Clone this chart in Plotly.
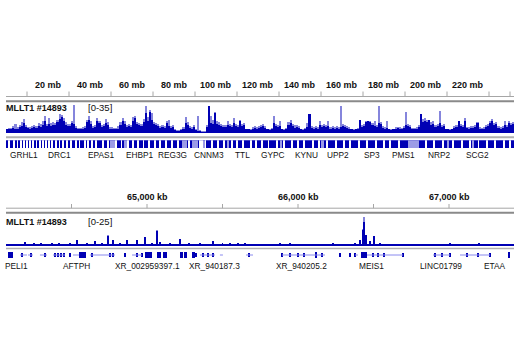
import plotly.graph_objects as go

W, H = 520, 350

# ---------------- chr2 overview: MLLT1 #14893 signal, 1 Mb bins ----------------
chr2_mean = [
    4, 5, 4, 6, 5, 5, 7, 8, 11, 7,
    6, 5, 6, 7, 6, 8, 7, 9, 13, 8,
    10, 8, 9, 9, 12, 16, 18, 14, 9, 8,
    8, 11, 10, 6, 5, 4, 5, 6, 12, 15,
    10, 6, 7, 13, 11, 7, 8, 11, 9, 5,
    5, 4, 5, 5, 9, 13, 10, 7, 8, 7,
    14, 17, 10, 9, 8, 12, 23, 14, 24, 15,
    10, 9, 8, 6, 7, 6, 11, 8, 6, 7,
    3, 2, 2, 3, 4, 11, 9, 6, 5, 7,
    3, 2, 2, 1, 1, 7, 30, 11, 10, 23,
    10, 9, 8, 7, 7, 9, 8, 7, 11, 8,
    7, 13, 8, 9, 4, 4, 3, 5, 6, 5,
    6, 7, 8, 6, 4, 3, 4, 11, 8, 7,
    8, 4, 3, 4, 9, 11, 8, 6, 7, 6,
    4, 3, 4, 7, 21, 6, 5, 6, 5, 9,
    7, 8, 7, 8, 5, 6, 5, 6, 5, 7,
    8, 7, 6, 5, 4, 3, 4, 4, 15, 7,
    8, 12, 13, 12, 9, 8, 7, 11, 10, 6,
    5, 6, 4, 3, 4, 5, 6, 5, 5, 6,
    9, 8, 7, 5, 4, 5, 7, 21, 12, 13,
    12, 15, 9, 10, 7, 8, 11, 7, 8, 4,
    4, 3, 4, 6, 7, 13, 8, 7, 13, 6,
    5, 6, 6, 7, 11, 5, 4, 5, 7, 8,
    11, 14, 9, 10, 6, 5, 6, 9, 7, 11, 9, 10,
]
chr2_max = [
    5, 6, 6, 8, 10, 7, 9, 12, 16, 9,
    7, 7, 8, 9, 8, 11, 10, 14, 19, 10,
    17, 11, 12, 11, 15, 21, 20, 17, 12, 10,
    10, 13, 32, 8, 6, 6, 7, 8, 15, 19,
    13, 8, 9, 17, 14, 9, 10, 16, 12, 7,
    7, 6, 6, 8, 12, 17, 13, 9, 10, 9,
    18, 19, 12, 11, 10, 16, 30, 18, 26, 23,
    12, 11, 10, 8, 9, 8, 13, 15, 8, 9,
    4, 3, 3, 4, 7, 18, 12, 8, 7, 9,
    4, 19, 3, 2, 2, 9, 31, 19, 15, 24,
    13, 12, 10, 9, 9, 13, 10, 9, 17, 10,
    9, 15, 10, 11, 5, 5, 5, 7, 8, 7,
    8, 9, 10, 8, 5, 5, 6, 19, 10, 9,
    13, 5, 5, 6, 12, 15, 10, 9, 9, 8,
    5, 5, 6, 11, 22, 8, 7, 8, 7, 13,
    9, 10, 9, 13, 7, 8, 7, 8, 7, 30,
    10, 9, 8, 7, 5, 5, 5, 6, 15, 9,
    10, 14, 14, 13, 11, 13, 9, 30, 12, 8,
    7, 13, 5, 5, 5, 7, 7, 7, 6, 8,
    24, 10, 9, 6, 6, 7, 9, 22, 16, 17,
    15, 15, 12, 14, 9, 10, 25, 9, 10, 5,
    5, 5, 5, 8, 9, 14, 10, 9, 17, 7,
    7, 8, 8, 9, 12, 7, 6, 7, 9, 10,
    13, 16, 11, 12, 8, 7, 8, 13, 9, 14, 11, 12,
]
chr2_len_mb = 241.9
ruler_labels_mb = [20, 40, 60, 80, 100, 120, 140, 160, 180, 200, 220]
ruler_ticks_mb = [10, 30, 50, 70, 90, 110, 130, 150, 170, 190, 210, 230, 240]

# gene density band on chr2
gene_gaps_mb = [1.5, 4, 5.5, 7, 8.5, 10, 11.5, 13, 14.5, 16, 17.5, 19, 20.5, 22, 24,
                25.5, 27, 29, 31, 33.5, 35, 37.5, 39, 41, 43, 46, 48.5, 52.5, 55, 58,
                60.5, 63, 65.5, 68, 71, 73.5, 76, 79, 82, 87, 95, 98, 101, 104, 107.5,
                110, 113, 116.5, 119, 122, 125, 129, 132.5, 136, 139, 142, 146, 149,
                153, 157, 161, 164, 168, 172, 176, 180, 183, 187, 200, 204, 208, 213,
                217, 221, 225, 229, 233, 237, 240]
gene_light_mb = [(49.5, 52), (56, 57.5), (84, 86), (88.5, 91.5), (94, 95), (105, 106),
                 (130.5, 131.5), (150, 151.5), (191.5, 196.5), (210, 211), (222, 223)]
gene_empty_mb = [(92, 93.6)]
genes_top = ["GRHL1", "DRC1", "EPAS1", "EHBP1", "REG3G", "CNNM3", "TTL", "GYPC",
             "KYNU", "UPP2", "SP3", "PMS1", "NRP2", "SCG2"]
genes_top_mb = [8.6, 25.7, 45.7, 63.8, 79.5, 96.7, 112.4, 127.1, 143.3, 158.1,
                174.3, 189.5, 206.2, 224.3]

# ---------------- MEIS1 locus: signal in kb ----------------
locus_range_kb = [64066.2, 67430.5]
locus_base_start_kb = 64050
locus_base_step_kb = 50
locus_base = [1.3, 1.5, 1.2, 1.4, 1.6, 1.3, 1.5, 1.4, 1.7, 1.5,
              1.6, 1.4, 1.8, 1.5, 1.6, 1.7, 1.5, 1.6, 1.4, 1.5,
              1.6, 1.5, 1.4, 1.3, 1.5, 1.4, 1.3, 1.4, 1.2, 1.3,
              1.4, 1.3, 1.2, 1.3, 1.4, 1.2, 1.3, 1.4, 1.3, 1.2,
              1.5, 1.3, 1.2, 1.3, 1.2, 1.4, 1.3, 1.2, 1.3, 1.2,
              1.3, 1.2, 1.4, 1.3, 1.2, 1.3, 1.4, 1.2, 1.3, 1.2,
              1.3, 1.4, 1.2, 1.3, 1.2, 1.3, 1.4, 1.3]
peak_kb = [64120, 64192, 64250, 64300, 64371, 64420, 64490, 64536, 64600, 64656,
           64700, 64742, 64775, 64820, 64868, 64934, 64987, 65030, 65066, 65086,
           65150, 65219, 65280, 65351, 65437, 65500, 65550, 65600, 65649, 65720,
           65800, 65880, 65947, 66010, 66080, 66150, 66230, 66300, 66378, 66411,
           66428, 66439, 66450, 66464, 66477, 66505, 66543, 66600, 66680, 66760,
           66840, 66907, 66960, 67007, 67070, 67139, 67200, 67280, 67350, 67400]
peak_val = [2.0, 3.3, 2.1, 2.3, 2.6, 2.1, 2.8, 4.6, 2.2, 3.8,
            2.4, 8.3, 4.5, 2.6, 4.5, 4.5, 7.0, 2.8, 12.4, 3.3,
            2.4, 6.0, 2.3, 2.8, 3.8, 2.2, 2.7, 2.1, 2.2, 2.0,
            1.9, 2.1, 2.2, 1.9, 1.8, 2.0, 2.1, 1.9, 2.8, 4.6,
            13.0, 19.5, 8.9, 2.0, 4.3, 8.3, 2.3, 1.9, 1.9, 2.0,
            1.8, 2.0, 1.8, 2.3, 1.9, 1.8, 2.1, 1.9, 2.0, 1.8]
peak_max_kb = [64742, 65066, 66428, 66439]
peak_max_val = [9.0, 13.0, 14.0, 23.0]
locus_labels_kb = [65000, 66000, 67000]
locus_label_text = ["65,000 kb", "66,000 kb", "67,000 kb"]
locus_ticks_kb = [64500, 65000, 65500, 66000, 66500, 67000]

# RefSeq models in the locus
intron_kb = [(64159, 64205), (64212, 64245), (64291, 64338), (64377, 64457),
             (64510, 64550), (64622, 64788), (64901, 64967), (65351, 65450),
             (65483, 65503), (65656, 65702), (65894, 66179), (66378, 66397),
             (66457, 66695), (66894, 67007), (67073, 67272)]
exon_kb = [(64081, 64114), (64550, 64593), (64987, 65030), (65066, 65093),
           (65106, 65132), (65219, 65238), (65245, 65265), (65298, 65318),
           (66113, 66126), (66417, 66457), (67391, 67407)]
feature_tick_kb = [64172, 64232, 64324, 64391, 64411, 64430, 64450, 64490, 64636,
                   64755, 64775, 64854, 64934, 64967, 65325, 65371, 65404, 65437,
                   65676, 65894, 65947, 66000, 66040, 66159, 66278, 66344, 66378,
                   66497, 66530, 66570, 66695, 66907, 66954, 67007, 67119, 67192,
                   67272]
genes_locus = ["PELI1", "AFTPH", "XR_002959397.1", "XR_940187.3", "XR_940205.2",
               "MEIS1", "LINC01799", "ETAA"]
genes_locus_kb = [64135, 64530, 65000, 65450, 66020, 66490, 66950, 67305]

# ---------------- styling ----------------
DARK = "#0000b4"
LIGHT = "#8585dc"
BAND_LIGHT = "#9c9ce6"
INTRON = "#8a8aee"
GRID = "#a6a6a6"
FONT = "Liberation Sans, Arial, Helvetica, sans-serif"

X0, X1 = 6 / W, 514 / W


def py(p):
    return 1 - p / H


fig = go.Figure()

# chr2 signal: bin maxima behind, bin means in front
mb_centres = [i + 0.5 for i in range(len(chr2_mean))]
fig.add_trace(go.Bar(x=mb_centres, y=chr2_max, width=1.0, marker=dict(color=LIGHT, line_width=0),
                     xaxis="x", yaxis="y", hoverinfo="skip"))
fig.add_trace(go.Bar(x=mb_centres, y=chr2_mean, width=1.0, marker=dict(color=DARK, line_width=0),
                     xaxis="x", yaxis="y", hoverinfo="skip"))

# chr2 gene density band
fig.add_trace(go.Bar(x=[chr2_len_mb / 2], y=[1], width=[chr2_len_mb], marker=dict(color=DARK, line_width=0),
                     xaxis="x", yaxis="y2", hoverinfo="skip"))
fig.add_trace(go.Bar(x=[(a + b) / 2 for a, b in gene_light_mb], y=[1] * len(gene_light_mb),
                     width=[b - a for a, b in gene_light_mb], marker=dict(color=BAND_LIGHT, line_width=0),
                     xaxis="x", yaxis="y2", hoverinfo="skip"))
fig.add_trace(go.Bar(x=gene_gaps_mb, y=[1] * len(gene_gaps_mb), width=0.42,
                     marker=dict(color="white", line_width=0), xaxis="x", yaxis="y2", hoverinfo="skip"))
fig.add_trace(go.Bar(x=[(a + b) / 2 for a, b in gene_empty_mb], y=[1] * len(gene_empty_mb),
                     width=[b - a for a, b in gene_empty_mb], marker=dict(color="white", line_width=0),
                     xaxis="x", yaxis="y2", hoverinfo="skip"))

# MEIS1 locus signal
base_centres = [locus_base_start_kb + locus_base_step_kb * (i + 0.5) for i in range(len(locus_base))]
fig.add_trace(go.Bar(x=base_centres, y=locus_base, width=locus_base_step_kb,
                     marker=dict(color=DARK, line_width=0), xaxis="x2", yaxis="y3", hoverinfo="skip"))
fig.add_trace(go.Bar(x=peak_max_kb, y=peak_max_val, width=6.5,
                     marker=dict(color=LIGHT, line_width=0), xaxis="x2", yaxis="y3", hoverinfo="skip"))
fig.add_trace(go.Bar(x=peak_kb, y=peak_val, width=6.5,
                     marker=dict(color=DARK, line_width=0), xaxis="x2", yaxis="y3", hoverinfo="skip"))

# MEIS1 locus gene models
ix, iy = [], []
for a, b in intron_kb:
    ix += [a, b, None]
    iy += [0.5, 0.5, None]
fig.add_trace(go.Scatter(x=ix, y=iy, mode="lines", line=dict(color=INTRON, width=1),
                         xaxis="x2", yaxis="y4", hoverinfo="skip"))
fig.add_trace(go.Bar(x=feature_tick_kb, y=[0.4] * len(feature_tick_kb), base=0.3, width=5,
                     marker=dict(color=DARK, line_width=0), xaxis="x2", yaxis="y4", hoverinfo="skip"))
fig.add_trace(go.Bar(x=[(a + b) / 2 for a, b in exon_kb], y=[0.62] * len(exon_kb), base=0.19,
                     width=[b - a for a, b in exon_kb], marker=dict(color=DARK, line_width=0),
                     xaxis="x2", yaxis="y4", hoverinfo="skip"))

shapes = []


def hline(p, color, width):
    shapes.append(dict(type="line", xref="paper", yref="paper", x0=X0, x1=X1, y0=py(p), y1=py(p),
                       line=dict(color=color, width=width)))


# chr2 ruler and track frame
hline(96.5, GRID, 1)
for t in ruler_ticks_mb:
    shapes.append(dict(type="line", xref="x", yref="paper", x0=t, x1=t, y0=py(91.5), y1=py(96.5),
                       line=dict(color=GRID, width=1)))
hline(101.3, "#8a8a8a", 2)
hline(137.3, "#b0b0b0", 2)

# locus ruler and track frame
hline(208.2, GRID, 1)
for t in locus_ticks_kb:
    shapes.append(dict(type="line", xref="x2", yref="paper", x0=t, x1=t, y0=py(204), y1=py(208.2),
                       line=dict(color=GRID, width=1)))
hline(212.8, "#8a8a8a", 2)
hline(248.4, "#b0b0b0", 1.5)

ann = []


def text(x, xref, p, s, size, bold=False, xanchor="center"):
    ann.append(dict(x=x, xref=xref, y=py(p), yref="paper", text=f"<b>{s}</b>" if bold else s,
                    showarrow=False, xanchor=xanchor, yanchor="middle",
                    font=dict(family=FONT, size=size, color="#111111"), borderpad=0))


for mb in ruler_labels_mb:
    text(mb, "x", 85.5, f"{mb} mb", 9, bold=True)
text(5 / W, "paper", 108, "MLLT1 #14893", 9, bold=True, xanchor="left")
text(87 / W, "paper", 108, "[0-35]", 9.5, xanchor="left")
for g, mb in zip(genes_top, genes_top_mb):
    text(mb, "x", 155, g, 8.3)

for kb, s in zip(locus_labels_kb, locus_label_text):
    text(kb, "x2", 197, s, 9, bold=True)
text(5 / W, "paper", 222, "MLLT1 #14893", 9, bold=True, xanchor="left")
text(87 / W, "paper", 222, "[0-25]", 9.5, xanchor="left")
for g, kb in zip(genes_locus, genes_locus_kb):
    text(kb, "x2", 266, g, 8.3)

ax_off = dict(visible=False, showgrid=False, zeroline=False, fixedrange=True)
fig.update_layout(
    width=W, height=H, margin=dict(l=0, r=0, t=0, b=0),
    paper_bgcolor="white", plot_bgcolor="white",
    showlegend=False, barmode="overlay", bargap=0,
    xaxis=dict(domain=[X0, X1], range=[0, chr2_len_mb], anchor="y", **ax_off),
    yaxis=dict(domain=[py(133), py(102)], range=[0, 35], anchor="x", **ax_off),
    yaxis2=dict(domain=[py(148), py(140.3)], range=[0, 1], anchor="x", **ax_off),
    xaxis2=dict(domain=[X0, X1], range=locus_range_kb, anchor="y3", **ax_off),
    yaxis3=dict(domain=[py(246), py(215)], range=[0, 25], anchor="x2", **ax_off),
    yaxis4=dict(domain=[py(260), py(250)], range=[0, 1], anchor="x2", **ax_off),
    shapes=shapes, annotations=ann,
)

fig.write_html("out.html")
